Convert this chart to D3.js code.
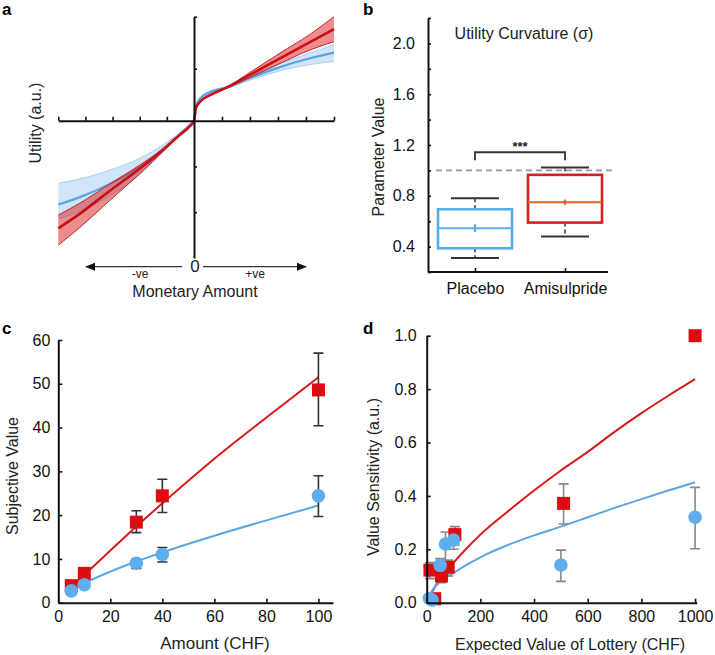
<!DOCTYPE html>
<html>
<head>
<meta charset="utf-8">
<script src="https://cdn.jsdelivr.net/npm/d3@7"></script>
<style>
  body { margin: 0; background: #fff; }
  svg { display: block; font-family: 'Liberation Sans', Arial, sans-serif; }
</style>
</head>
<body>
<svg width="715" height="655"></svg>
<script>
// ---- panel a: utility curves (arbitrary units)
const utilX      = [-5, -4.2, -3.1, -2, -1.07, -0.52, -0.15, 0, 0.07, 0.21, 0.57, 1.18, 2, 3.07, 4.14, 5];
const utilRed    = [-2.35, -2.03, -1.53, -1.05, -0.6, -0.31, -0.12, 0, 0.24, 0.36, 0.49, 0.64, 0.88, 1.2, 1.51, 1.76];
const utilRedHi  = [-2.06, -1.8, -1.38, -0.97, -0.58, -0.3, -0.11, 0, 0.25, 0.37, 0.5, 0.65, 0.93, 1.3, 1.66, 2.0];
const utilRedLo  = [-2.72, -2.33, -1.74, -1.16, -0.63, -0.32, -0.13, 0, 0.23, 0.35, 0.48, 0.63, 0.83, 1.1, 1.36, 1.52];
const utilBlue   = [-1.83, -1.67, -1.38, -1.01, -0.58, -0.29, -0.09, 0, 0.28, 0.42, 0.55, 0.64, 0.82, 1.03, 1.2, 1.31];
const utilBlueHi = [-1.37, -1.27, -1.08, -0.82, -0.5, -0.26, -0.08, 0, 0.3, 0.44, 0.57, 0.66, 0.86, 1.1, 1.3, 1.46];
const utilBlueLo = [-2.15, -1.98, -1.64, -1.18, -0.64, -0.31, -0.1, 0, 0.26, 0.4, 0.53, 0.62, 0.78, 0.96, 1.08, 1.14];

// ---- panel b: utility curvature box plots
const groups    = ['Placebo', 'Amisulpride'];
const whiskLo   = [0.31, 0.48];
const boxQ1     = [0.387, 0.589];
const boxMedian = [0.545, 0.75];
const boxQ3     = [0.694, 0.965];
const whiskHi   = [0.78, 1.022];
const boxMean   = [0.545, 0.75];
const meanSem   = [0.03, 0.02];
const paramTicks = [0.4, 0.8, 1.2, 1.6, 2.0];

// ---- panel c: subjective value
const amounts  = [5, 10, 30, 40, 100];
const svRed    = [3.9, 6.7, 18.4, 24.4, 48.6];
const svRedLo  = [3.2, 5.9, 16.0, 20.6, 40.4];
const svRedHi  = [4.6, 7.5, 21.0, 28.2, 57.0];
const svBlue   = [2.7, 4.1, 9.0, 11.0, 24.4];
const svBlueLo = [2.2, 3.6, 7.8, 9.3, 19.7];
const svBlueHi = [3.2, 4.7, 9.9, 12.6, 29.0];
const svFitX    = [5, 10, 20, 30, 40, 60, 80, 100];
const svFitRed  = [3.35, 6.3, 11.9, 17.4, 22.7, 32.9, 42.3, 51.5];
const svFitBlue = [2.7, 4.4, 7.1, 9.4, 11.5, 15.3, 18.8, 22.2];
const amountTicks = [0, 20, 40, 60, 80, 100];
const svTicks = [0, 10, 20, 30, 40, 50, 60];

// ---- panel d: value sensitivity
const evRed     = [12, 30, 55, 80, 105, 510, 1000];
const vsRed     = [0.122, 0.015, 0.1, 0.133, 0.255, 0.372, 1.0];
const vsRedLo   = [0.09, 0.005, 0.075, 0.1, 0.216, 0.295, 1.0];
const vsRedHi   = [0.15, 0.025, 0.125, 0.16, 0.285, 0.445, 1.0];
const evBlue    = [10, 20, 50, 70, 100, 500, 1000];
const vsBlue    = [0.016, 0.01, 0.14, 0.22, 0.235, 0.141, 0.32];
const vsBlueLo  = [0.006, 0.0, 0.11, 0.15, 0.2, 0.08, 0.202];
const vsBlueHi  = [0.026, 0.02, 0.165, 0.265, 0.27, 0.197, 0.432];
const vsFitX    = [5, 20, 50, 100, 150, 200, 300, 400, 500, 600, 700, 800, 900, 1000];
const vsFitRed  = [0.01, 0.04, 0.09, 0.15, 0.205, 0.255, 0.34, 0.42, 0.495, 0.565, 0.64, 0.71, 0.775, 0.837];
const vsFitBlue = [0.01, 0.045, 0.078, 0.112, 0.143, 0.17, 0.215, 0.252, 0.285, 0.32, 0.355, 0.388, 0.42, 0.451];
const evTicks = [0, 200, 400, 600, 800, 1000];
const vsTicks = [0, 0.2, 0.4, 0.6, 0.8, 1.0];

(function() {
  const svg = d3.select('svg');
  const RED = '#d7191c';
  const BLUE = '#5aa5e3';
  const MRED = '#dc0c12';
  const MBLUE = '#5eaeee';
  const AXIS = '#111';

  function styleAxis(g, size) {
    g.select('.domain').attr('stroke', AXIS).attr('stroke-width', 2);
    g.selectAll('.tick line').attr('stroke', AXIS).attr('stroke-width', 1.6);
    g.selectAll('.tick text').attr('fill', '#111').style('font-size', size + 'px');
  }

  function panelLabel(t, x, y) {
    svg.append('text').attr('x', x).attr('y', y).text(t)
      .style('font-size', '17px').style('font-weight', 'bold').attr('fill', '#000');
  }

  function yTitle(t, x, y, size) {
    svg.append('text').attr('transform', `translate(${x},${y}) rotate(-90)`)
      .attr('text-anchor', 'middle').attr('dominant-baseline', 'central')
      .style('font-size', size + 'px').attr('fill', '#222').text(t);
  }

  function xTitle(t, x, y, size) {
    svg.append('text').attr('x', x).attr('y', y).attr('text-anchor', 'middle')
      .style('font-size', size + 'px').attr('fill', '#222').text(t);
  }

  // ================= a =================
  const ax = d3.scaleLinear().domain([-5, 0, 5]).range([58.3, 194, 334]);
  const ay = d3.scaleLinear().domain([-3, 0, 2]).range([258, 120.7, 16.7]);
  const gA = svg.append('g');
  const rowsA = utilX.map((x, i) => ({
    x, r: utilRed[i], rh: utilRedHi[i], rl: utilRedLo[i],
    b: utilBlue[i], bh: utilBlueHi[i], bl: utilBlueLo[i]
  }));
  const curveA = d3.curveMonotoneX;
  const areaA = (lo, hi) => d3.area().x(d => ax(d.x)).y0(d => ay(d[lo])).y1(d => ay(d[hi])).curve(curveA);
  const lineA = (k) => d3.line().x(d => ax(d.x)).y(d => ay(d[k])).curve(curveA);

  gA.append('path').datum(rowsA).attr('d', areaA('bl', 'bh'))
    .attr('fill', '#78b6ec').attr('fill-opacity', 0.35);
  gA.append('path').datum(rowsA).attr('d', lineA('bh')).attr('fill', 'none').attr('stroke', '#a9d0f3').attr('stroke-width', 1);
  gA.append('path').datum(rowsA).attr('d', lineA('bl')).attr('fill', 'none').attr('stroke', '#a9d0f3').attr('stroke-width', 1);
  gA.append('path').datum(rowsA).attr('d', lineA('b')).attr('fill', 'none').attr('stroke', BLUE).attr('stroke-width', 2.2);

  gA.append('path').datum(rowsA).attr('d', areaA('rl', 'rh'))
    .attr('fill', RED).attr('fill-opacity', 0.5);
  gA.append('path').datum(rowsA).attr('d', lineA('rh')).attr('fill', 'none').attr('stroke', '#c8262b').attr('stroke-width', 1);
  gA.append('path').datum(rowsA).attr('d', lineA('rl')).attr('fill', 'none').attr('stroke', '#c8262b').attr('stroke-width', 1);
  gA.append('path').datum(rowsA).attr('d', lineA('r')).attr('fill', 'none').attr('stroke', '#cc0e14').attr('stroke-width', 2.6);

  const axA = gA.append('g').attr('transform', `translate(0,${ay(0)})`)
    .call(d3.axisBottom(ax).tickValues([-5, -4, -3, -2, -1, 1, 2, 3, 4, 5]).tickSize(-4).tickSizeOuter(0).tickFormat(''));
  styleAxis(axA, 12);
  const ayA = gA.append('g').attr('transform', `translate(${ax(0)},0)`)
    .call(d3.axisRight(ay).tickValues([-2, -1, 1, 2]).tickSize(3).tickSizeOuter(0).tickFormat(''));
  styleAxis(ayA, 12);

  // arrow annotation under panel a
  const arrowY = 266.7;
  gA.append('line').attr('x1', 92).attr('x2', 182).attr('y1', arrowY).attr('y2', arrowY)
    .attr('stroke', '#333').attr('stroke-width', 1.3);
  gA.append('line').attr('x1', 203).attr('x2', 300).attr('y1', arrowY).attr('y2', arrowY)
    .attr('stroke', '#333').attr('stroke-width', 1.3);
  gA.append('path').attr('d', `M85,${arrowY}L95,${arrowY - 4}L95,${arrowY + 4}Z`).attr('fill', '#111');
  gA.append('path').attr('d', `M307,${arrowY}L297,${arrowY - 4}L297,${arrowY + 4}Z`).attr('fill', '#111');
  gA.append('text').attr('x', 195).attr('y', 272).attr('text-anchor', 'middle')
    .style('font-size', '17px').attr('fill', '#222').text('0');
  gA.append('text').attr('x', 140).attr('y', 278).attr('text-anchor', 'middle')
    .style('font-size', '12px').attr('fill', '#222').text('-ve');
  gA.append('text').attr('x', 255).attr('y', 278).attr('text-anchor', 'middle')
    .style('font-size', '12px').attr('fill', '#222').text('+ve');
  xTitle('Monetary Amount', 195, 297, 16);
  yTitle('Utility (a.u.)', 35, 123, 16);
  panelLabel('a', 2, 15);

  // ================= b =================
  const by = d3.scaleLinear().domain([0.2, 2.2]).range([272, 18]);
  const bx = d3.scalePoint().domain(groups).range([475, 565]);
  const gB = svg.append('g');
  const boxW = 74, capW = 48;
  const boxColors = ['#5aace8', '#d71f20'];
  const medColors = ['#5aace8', '#e4602c'];

  // reference line at 1.0 and significance bracket
  gB.append('line').attr('x1', 436).attr('x2', 615).attr('y1', by(1)).attr('y2', by(1))
    .attr('stroke', '#999').attr('stroke-width', 1.6).attr('stroke-dasharray', '6,4');
  const brY = by(1.143), brEnd = by(1.08);
  gB.append('path')
    .attr('d', `M${bx(groups[0])},${brEnd}V${brY}H${bx(groups[1])}V${brEnd}`)
    .attr('fill', 'none').attr('stroke', '#333').attr('stroke-width', 1.8);
  gB.append('text').attr('x', (bx(groups[0]) + bx(groups[1])) / 2).attr('y', brY - 1)
    .attr('text-anchor', 'middle').style('font-size', '13px').style('font-weight', 'bold')
    .attr('fill', '#222').text('***');

  groups.forEach((g, i) => {
    const cx = bx(g);
    // whiskers
    gB.append('line').attr('x1', cx).attr('x2', cx).attr('y1', by(whiskHi[i])).attr('y2', by(boxQ3[i]))
      .attr('stroke', '#333').attr('stroke-width', 1.5).attr('stroke-dasharray', '4,3');
    gB.append('line').attr('x1', cx).attr('x2', cx).attr('y1', by(boxQ1[i])).attr('y2', by(whiskLo[i]))
      .attr('stroke', '#333').attr('stroke-width', 1.5).attr('stroke-dasharray', '4,3');
    [whiskHi[i], whiskLo[i]].forEach(v => {
      gB.append('line').attr('x1', cx - capW / 2).attr('x2', cx + capW / 2).attr('y1', by(v)).attr('y2', by(v))
        .attr('stroke', '#333').attr('stroke-width', 2);
    });
    gB.append('rect').attr('x', cx - boxW / 2).attr('width', boxW)
      .attr('y', by(boxQ3[i])).attr('height', by(boxQ1[i]) - by(boxQ3[i]))
      .attr('fill', 'none').attr('stroke', boxColors[i]).attr('stroke-width', 2.6);
    gB.append('line').attr('x1', cx - boxW / 2).attr('x2', cx + boxW / 2)
      .attr('y1', by(boxMedian[i])).attr('y2', by(boxMedian[i]))
      .attr('stroke', medColors[i]).attr('stroke-width', 2);
    gB.append('line').attr('x1', cx).attr('x2', cx)
      .attr('y1', by(boxMean[i] + meanSem[i])).attr('y2', by(boxMean[i] - meanSem[i]))
      .attr('stroke', medColors[i]).attr('stroke-width', 2.4);
  });

  const ayB = gB.append('g').attr('transform', 'translate(428,0)')
    .call(d3.axisLeft(by).tickValues(by.ticks(10)).tickSize(-3).tickSizeOuter(0).tickPadding(13)
      .tickFormat(d => paramTicks.some(t => Math.abs(t - d) < 1e-6) ? d3.format('.1f')(d) : ''));
  styleAxis(ayB, 16);
  const axB = gB.append('g').attr('transform', `translate(0,${by(0.2)})`)
    .call(d3.axisBottom(bx).tickSize(-4).tickSizeOuter(0).tickPadding(11));
  styleAxis(axB, 16);
  axB.select('.domain').remove();
  gB.append('line').attr('x1', 428).attr('x2', 608).attr('y1', by(0.2)).attr('y2', by(0.2))
    .attr('stroke', AXIS).attr('stroke-width', 2);
  gB.append('text').attr('x', 524).attr('y', 39).attr('text-anchor', 'middle')
    .style('font-size', '16px').attr('fill', '#222').text('Utility Curvature (σ)');
  yTitle('Parameter Value', 378, 157, 16);
  panelLabel('b', 363, 15);

  // helper for scatter panels
  function scatterPanel(o) {
    const g = svg.append('g');
    const line = (xs, ys) => d3.line().x((d, i) => o.x(xs[i])).y((d, i) => o.y(ys[i])).curve(d3.curveMonotoneX)(xs);
    g.append('path').attr('d', line(o.fitX, o.fitRed)).attr('fill', 'none').attr('stroke', RED).attr('stroke-width', 2);
    g.append('path').attr('d', line(o.fitX, o.fitBlue)).attr('fill', 'none').attr('stroke', BLUE).attr('stroke-width', 2);

    const bars = (xs, lo, hi) => {
      xs.forEach((x, i) => {
        if (hi[i] - lo[i] < 1e-9) return;
        const px = o.x(x);
        g.append('path')
          .attr('d', `M${px},${o.y(lo[i])}V${o.y(hi[i])}M${px - 5},${o.y(lo[i])}H${px + 5}M${px - 5},${o.y(hi[i])}H${px + 5}`)
          .attr('fill', 'none').attr('stroke', o.errColor).attr('stroke-width', 1.6);
      });
    };
    bars(o.redX, o.redLo, o.redHi);
    bars(o.blueX, o.blueLo, o.blueHi);

    g.selectAll(null).data(o.redX).join('rect')
      .attr('x', (d) => o.x(d) - 6.5).attr('y', (d, i) => o.y(o.red[i]) - 6.5)
      .attr('width', 13).attr('height', 13).attr('fill', MRED);
    g.selectAll(null).data(o.blueX).join('circle')
      .attr('cx', (d) => o.x(d)).attr('cy', (d, i) => o.y(o.blue[i]))
      .attr('r', 6.8).attr('fill', MBLUE);

    const gx = g.append('g').attr('transform', `translate(0,${o.y.range()[0]})`)
      .call(d3.axisBottom(o.x).tickValues(o.xTicks).tickSize(-4).tickSizeOuter(0).tickPadding(8).tickFormat(d3.format('d')));
    styleAxis(gx, 16);
    const gy = g.append('g').attr('transform', `translate(${o.x.range()[0]},0)`)
      .call(d3.axisLeft(o.y).tickValues(o.yTicks).tickSize(-4).tickSizeOuter(0).tickPadding(o.yPad).tickFormat(o.yFormat));
    styleAxis(gy, 16);
  }

  // ================= c =================
  scatterPanel({
    x: d3.scaleLinear().domain([0, 105.6]).range([58.3, 333]),
    y: d3.scaleLinear().domain([0, 60]).range([602.7, 340]),
    fitX: svFitX, fitRed: svFitRed, fitBlue: svFitBlue,
    redX: amounts, red: svRed, redLo: svRedLo, redHi: svRedHi,
    blueX: amounts, blue: svBlue, blueLo: svBlueLo, blueHi: svBlueHi,
    xTicks: amountTicks, yTicks: svTicks, yPad: 8, yFormat: d3.format('d'),
    errColor: '#333'
  });
  xTitle('Amount (CHF)', 215, 649, 17);
  yTitle('Subjective Value', 12, 476, 16);
  panelLabel('c', 2, 334);

  // ================= d =================
  scatterPanel({
    x: d3.scaleLinear().domain([0, 1006]).range([426.7, 696.7]),
    y: d3.scaleLinear().domain([0, 1]).range([602.7, 335.7]),
    fitX: vsFitX, fitRed: vsFitRed, fitBlue: vsFitBlue,
    redX: evRed, red: vsRed, redLo: vsRedLo, redHi: vsRedHi,
    blueX: evBlue, blue: vsBlue, blueLo: vsBlueLo, blueHi: vsBlueHi,
    xTicks: evTicks, yTicks: vsTicks, yPad: 10, yFormat: d3.format('.1f'),
    errColor: '#888'
  });
  xTitle('Expected Value of Lottery (CHF)', 570, 650, 16);
  yTitle('Value Sensitivity (a.u.)', 373, 477, 16);
  panelLabel('d', 363, 334);
})();
</script>
</body>
</html>
